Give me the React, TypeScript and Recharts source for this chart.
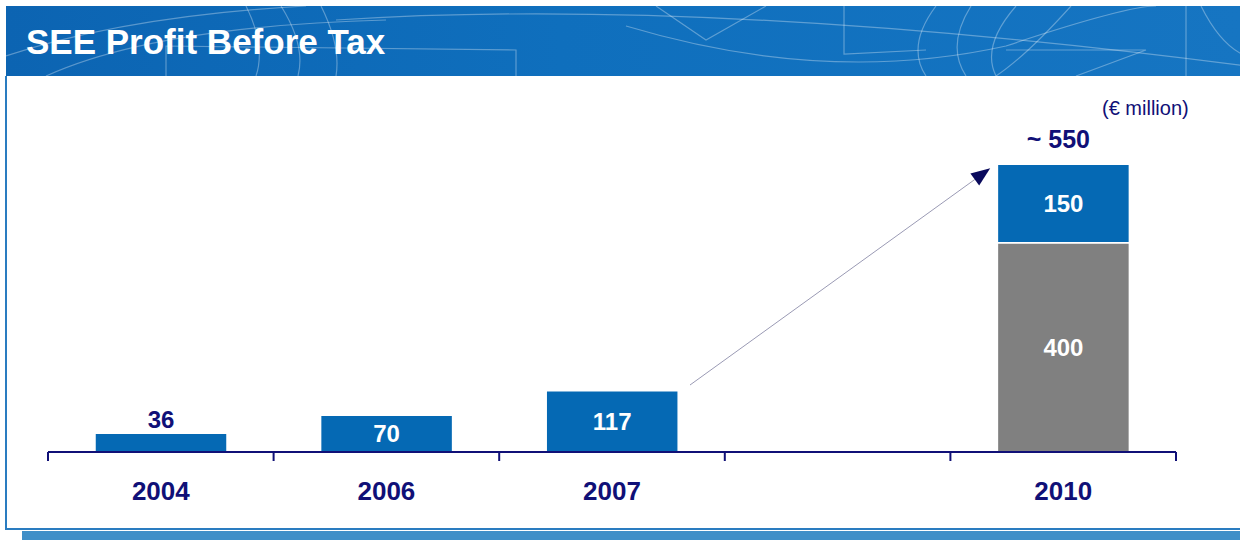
import React from "react";
import { BarChart, Bar, XAxis, YAxis, LabelList, ReferenceLine } from "recharts";

const years = ["2004", "2006", "2007", "", "2010"];
const baseValues = [null, null, null, null, 400];
const topValues = [36, 70, 117, null, 150];
const arrowFrom = { year: "2007", value: 128 };
const arrowTo = { year: "2010", value: 542 };

const BLUE = "#0569b4";
const GREY = "#808080";
const NAVY = "#101077";
const FONT = "'Liberation Sans', Arial, sans-serif";
const BAR_SIZE = 132;
const CHART_W = 1240;
const MARGIN = { top: 138, right: 64, left: 48, bottom: 28 };

const rows = years.map((year, i) => ({
  year,
  base: baseValues[i],
  top: topValues[i],
  total: baseValues[i] != null && topValues[i] != null ? baseValues[i] + topValues[i] : null,
}));

function box(props: any) {
  const vb = props.viewBox || props;
  return { x: Number(vb.x), y: Number(vb.y), width: Number(vb.width), height: Number(vb.height) };
}

function ValueLabel(props: any) {
  const { value } = props;
  if (value == null) return null;
  const { x, y, width, height } = box(props);
  const cx = x + width / 2;
  const small = height < 25;
  return (
    <text
      x={cx}
      y={small ? y - 14 : y + height / 2}
      textAnchor="middle"
      dominantBaseline="central"
      fill={small ? NAVY : "#fff"}
      fontFamily={FONT}
      fontWeight="bold"
      fontSize={24}
    >
      {value}
    </text>
  );
}

function TotalLabel(props: any) {
  const { value } = props;
  if (value == null) return null;
  const { x, y, width } = box(props);
  return (
    <text
      x={x + width / 2 - 5}
      y={y - 25}
      textAnchor="middle"
      dominantBaseline="central"
      fill={NAVY}
      fontFamily={FONT}
      fontWeight="bold"
      fontSize={25}
    >
      {`~ ${value}`}
    </text>
  );
}

// year label plus tick marks on the band edges (not the band centres)
function YearTick(props: any) {
  const { x, y, payload, index, visibleTicksCount } = props;
  const half =
    payload && payload.offset
      ? Number(payload.offset)
      : (CHART_W - MARGIN.left - MARGIN.right) / years.length / 2;
  const last = index === (visibleTicksCount ?? years.length) - 1;
  return (
    <g>
      <line x1={x - half} y1={y} x2={x - half} y2={y + 9} stroke={NAVY} strokeWidth={2} />
      {last && <line x1={x + half} y1={y} x2={x + half} y2={y + 9} stroke={NAVY} strokeWidth={2} />}
      <text
        x={x}
        y={y + 39}
        textAnchor="middle"
        dominantBaseline="central"
        fill={NAVY}
        fontFamily={FONT}
        fontWeight="bold"
        fontSize={26}
      >
        {payload.value}
      </text>
    </g>
  );
}

function Arrow(props: any) {
  const x1 = Number(props.x1) + BAR_SIZE / 2 + 12;
  const y1 = Number(props.y1);
  const x2 = Number(props.x2) - BAR_SIZE / 2 - 7;
  const y2 = Number(props.y2);
  const ang = Math.atan2(y2 - y1, x2 - x1);
  const len = 19;
  const half = 7.5;
  const bx = x2 - len * Math.cos(ang);
  const by = y2 - len * Math.sin(ang);
  const px = -Math.sin(ang) * half;
  const py = Math.cos(ang) * half;
  return (
    <g>
      <line x1={x1} y1={y1} x2={bx} y2={by} stroke="#9a9ab4" strokeWidth={1} />
      <polygon
        points={`${x2},${y2} ${bx + px},${by + py} ${bx - px},${by - py}`}
        fill="#0a0a5c"
      />
    </g>
  );
}

function HeaderLines() {
  const s = "rgba(255,255,255,0.32)";
  return (
    <svg width={1234} height={70} style={{ position: "absolute", left: 0, top: 0 }}>
      <path d="M0,50 Q120,10 300,0" stroke={s} fill="none" strokeWidth={1.2} />
      <path d="M40,70 Q150,20 380,14" stroke={s} fill="none" strokeWidth={1.2} />
      <path d="M240,0 Q260,40 250,70" stroke={s} fill="none" strokeWidth={1.2} />
      <path d="M275,0 Q300,40 292,70" stroke={s} fill="none" strokeWidth={1.2} />
      <path d="M315,0 Q335,40 330,70" stroke={s} fill="none" strokeWidth={1.2} />
      <path d="M160,70 L160,40 L510,44 L510,70" stroke={s} fill="none" strokeWidth={1.2} />
      <path d="M330,14 Q700,-10 1240,60" stroke={s} fill="none" strokeWidth={1.2} />
      <path d="M620,20 Q820,80 1000,40 Q1120,0 1150,0" stroke={s} fill="none" strokeWidth={1.2} />
      <path d="M650,0 L700,34 L760,0" stroke={s} fill="none" strokeWidth={1.2} />
      <path d="M838,0 L838,48 L920,44" stroke={s} fill="none" strokeWidth={1.2} />
      <path d="M930,0 Q900,40 920,70" stroke={s} fill="none" strokeWidth={1.2} />
      <path d="M965,0 Q940,40 960,70" stroke={s} fill="none" strokeWidth={1.2} />
      <path d="M1010,0 Q975,40 990,70" stroke={s} fill="none" strokeWidth={1.2} />
      <path d="M1065,0 Q1020,50 990,70" stroke={s} fill="none" strokeWidth={1.2} />
      <path d="M1000,44 L1140,44 L1070,70" stroke={s} fill="none" strokeWidth={1.2} />
      <path d="M1180,0 L1180,70" stroke={s} fill="none" strokeWidth={1.2} />
      <path d="M1195,0 Q1215,40 1240,50" stroke={s} fill="none" strokeWidth={1.2} />
    </svg>
  );
}

export default function App() {
  return (
    <div style={{ position: "absolute", left: 0, top: 0, width: 1240, height: 540, background: "#fff", overflow: "hidden" }}>
      <div
        style={{
          position: "absolute",
          left: 6,
          top: 6,
          width: 1234,
          height: 70,
          background: "linear-gradient(90deg, #0c64b2 0%, #0f6fbd 45%, #1675c2 100%)",
        }}
      >
        <HeaderLines />
        <div
          style={{
            position: "absolute",
            left: 20,
            top: 16,
            color: "#fff",
            fontFamily: FONT,
            fontWeight: "bold",
            fontSize: 35,
            lineHeight: "40px",
            whiteSpace: "nowrap",
          }}
        >
          SEE Profit Before Tax
        </div>
      </div>
      <div style={{ position: "absolute", left: 5, top: 76, width: 2, height: 454, background: "#2a7cc0" }} />
      <div style={{ position: "absolute", left: 5, top: 528, width: 1235, height: 2, background: "#2a7cc0" }} />
      <div style={{ position: "absolute", left: 22, top: 531, width: 1218, height: 9, background: "#3f8fc8" }} />
      <div
        style={{
          position: "absolute",
          left: 1102,
          top: 95,
          color: NAVY,
          fontFamily: FONT,
          fontSize: 20,
          lineHeight: "26px",
          whiteSpace: "nowrap",
        }}
      >
        (€ million)
      </div>
      <div style={{ position: "absolute", left: 0, top: 0 }}>
        <BarChart width={CHART_W} height={540} data={rows} margin={MARGIN} barSize={BAR_SIZE}>
          <XAxis
            dataKey="year"
            axisLine={{ stroke: NAVY, strokeWidth: 2 }}
            tickLine={false}
            tickSize={0}
            tickMargin={0}
            interval={0}
            height={60}
            tick={<YearTick />}
          />
          <YAxis hide domain={[0, 600]} />
          <Bar dataKey="base" stackId="a" fill={GREY} stroke="#fff" strokeWidth={1.5} isAnimationActive={false}>
            <LabelList dataKey="base" content={<ValueLabel />} />
          </Bar>
          <Bar dataKey="top" stackId="a" fill={BLUE} stroke="#fff" strokeWidth={1.5} isAnimationActive={false}>
            <LabelList dataKey="top" content={<ValueLabel />} />
            <LabelList dataKey="total" content={<TotalLabel />} />
          </Bar>
          <ReferenceLine
            segment={[
              { x: arrowFrom.year, y: arrowFrom.value },
              { x: arrowTo.year, y: arrowTo.value },
            ]}
            ifOverflow="visible"
            shape={(p: any) => <Arrow {...p} />}
          />
        </BarChart>
      </div>
    </div>
  );
}
